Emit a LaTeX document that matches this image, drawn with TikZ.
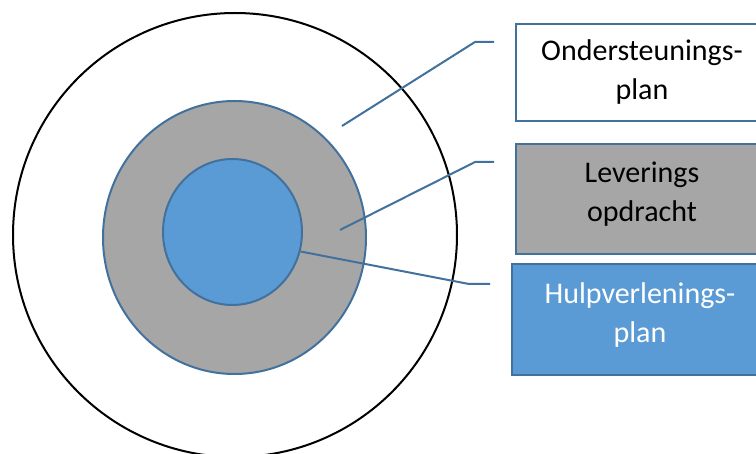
\documentclass[tikz,border=0pt]{standalone}
\usepackage{fontspec}
\setmainfont{Carlito}
\definecolor{officeblue}{RGB}{91,155,213}
\definecolor{edgeblue}{RGB}{65,113,156}
\definecolor{midgray}{RGB}{166,166,166}
\usetikzlibrary{shapes.geometric}

\begin{document}
\begin{tikzpicture}[x=1pt, y=-1pt,
    ring/.style={ellipse, draw=edgeblue, line width=2pt, inner sep=0pt},
    box/.style={draw=edgeblue, line width=2pt, anchor=north west,
      minimum width=252pt, align=center, font=\fontsize{30}{39}\selectfont},
    leader/.style={draw=edgeblue, line width=2pt},
  ]
    \useasboundingbox (0,0) rectangle (756,454);
    \clip (0,0) rectangle (756,454);
    % rings
    \node[circle, draw=black, line width=2pt, inner sep=0pt,
      minimum size=444pt] (ondersteuning) at (235,235) {};
    \node[ring, fill=midgray, minimum width=263pt,
      minimum height=273pt] (levering) at (234.5,237.5) {};
    \node[ring, fill=officeblue, minimum width=139pt,
      minimum height=146pt] (hulp) at (232.5,232) {};
    % boxes
    \node[box, fill=white, minimum height=97pt] (obox) at (515,23)
      {Ondersteunings-\\plan};
    \node[box, fill=midgray, minimum height=110pt, text depth=14pt] (lbox) at (515,143)
      {Leverings\\opdracht};
    \node[box, fill=officeblue, text=white, minimum width=256pt,
      minimum height=111pt, text depth=14pt] (hbox) at (511,263)
      {Hulpverlenings-\\plan};
    % leaders
    \coordinate (o1) at (342,126);
    \coordinate (o2) at (475,42);
    \coordinate (o3) at (494,42);
    \coordinate (l1) at (340,230);
    \coordinate (l2) at (475,162);
    \coordinate (l3) at (494,162);
    \coordinate (h2) at (469,284);
    \coordinate (h3) at (490,284);
    \draw[leader] (o1) -- (o2) -- (o3);
    \draw[leader] (l1) -- (l2) -- (l3);
    \draw[leader] (hulp.-16) -- (h2) -- (h3);
  \end{tikzpicture}
\end{document}
